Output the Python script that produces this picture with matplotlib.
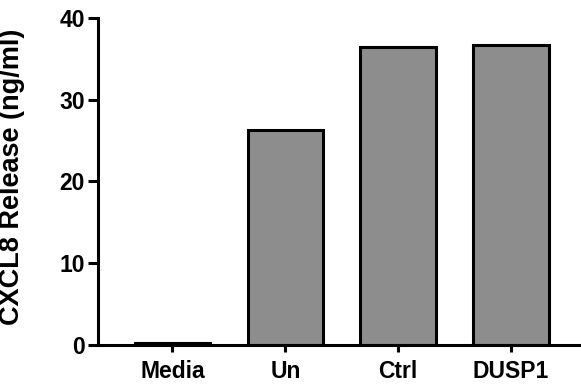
import matplotlib
matplotlib.use("Agg")
import matplotlib.pyplot as plt

categories = ["Media", "Un", "Ctrl", "DUSP1"]
release = [0.2, 26.35, 36.5, 36.7]
yticks = [0, 10, 20, 30, 40]

plt.rcParams['font.family'] = ['Liberation Sans', 'DejaVu Sans']
plt.rcParams['font.weight'] = 'bold'

fig = plt.figure(figsize=(5.81, 3.85), dpi=100)
ax = fig.add_axes([0.1687, 0.1039, 0.8313, 0.8494])

x = range(len(categories))
ax.bar(x, release, width=0.67, color="#8d8d8d", edgecolor="black", linewidth=2.2)

ax.set_xlim(-0.66, 3.62)
ax.set_ylim(0, 40)
ax.set_yticks(yticks)
ax.set_xticks(list(x))
ax.set_xticklabels(categories)

for side in ("top", "right"):
    ax.spines[side].set_visible(False)
for side in ("left", "bottom"):
    ax.spines[side].set_linewidth(2.2)

ax.tick_params(axis="y", width=2.2, length=7, labelsize=16.5, pad=2.5)
ax.tick_params(axis="x", width=2.2, length=5, labelsize=16.5, pad=5.5)
for lab in ax.get_xticklabels() + ax.get_yticklabels():
    lab.set_fontweight("bold")

ax.set_ylabel("CXCL8 Release (ng/ml)", fontsize=19.5, fontweight="bold")
ax.yaxis.set_label_coords(-0.152, 0.515)

fig.savefig("out.png", dpi=100)
